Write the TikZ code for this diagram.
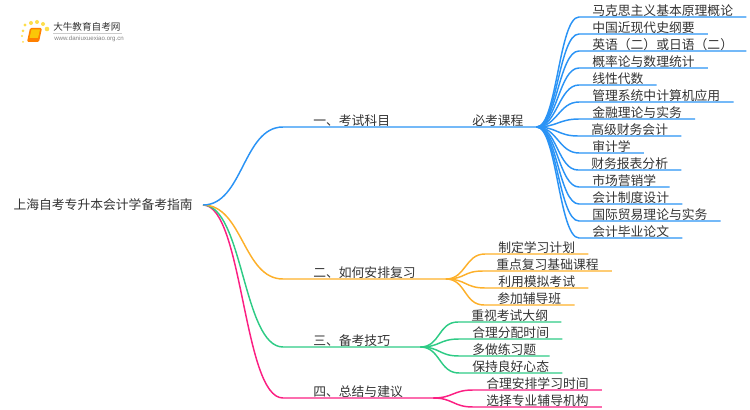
\documentclass[tikz,border=0pt]{standalone}
\usepackage{fontspec}
\setmainfont{Noto Sans CJK SC}
\newfontfamily\urlfont{Liberation Sans}
\usepackage{tikz}
\definecolor{mapblue}{HTML}{2A93F5}
\definecolor{maporange}{HTML}{FDB02A}
\definecolor{mapgreen}{HTML}{2ECB85}
\definecolor{mappink}{HTML}{FB1F82}
\definecolor{maptext}{HTML}{333333}
\tikzset{
    mapline/.style = {line width=1.1pt},
    rootnode/.style = {anchor=east,inner xsep=7.5pt,inner ysep=0pt,text=maptext,font=\fontsize{9.6pt}{12pt}\selectfont},
    branchnode/.style = {anchor=south west,inner xsep=22.5pt,inner ysep=0.75pt,text height=8.5pt,text depth=0pt,text=maptext,font=\fontsize{9.6pt}{12pt}\selectfont},
    leafnode/.style = {anchor=south west,inner xsep=9.75pt,inner ysep=0.75pt,text height=8.5pt,text depth=0pt,text=maptext,font=\fontsize{9.6pt}{12pt}\selectfont}
}
\begin{document}
\begin{tikzpicture}[
        x = 0.75pt,
        y = -0.75pt
    ]
        \useasboundingbox (0,0) rectangle (750,410);
        % logo
        \fill [yellow!70!orange!70] (25,25) circle (1.7) (31,23) circle (2) (37,22) circle (2) (43,24) circle (2) (47,29) circle (2.3) (23,31) circle (1.5) (22,36) circle (1.2) (23,42) circle (1);
        \fill [orange,rounded corners=1] (30,28)--(42,28)--(39,42)--(27,42)--cycle;
        \fill [yellow!60!orange] (31.5,29.5)--(40,29.5)--(38,38)--(29.5,38)--cycle;
        \draw [gray!40] (53,33)--(122,33);
        \node (logotitle) [anchor=west,inner sep=0pt,text=maptext,font=\fontsize{7.2pt}{9pt}\selectfont] at (53,27) {大牛教育自考网};
        \node (logourl) [anchor=west,inner sep=0pt,text=gray,font=\urlfont\fontsize{4.6pt}{6pt}\selectfont] at (54,39) {www.daniuxuexiao.org.cn};
        % root and branches
        \node (root) [rootnode] at (203,205) {上海自考专升本会计学备考指南};
        \node (exam) [branchnode] at (283,127) {一、考试科目};
        \node (review) [branchnode] at (283,279) {二、如何安排复习};
        \node (skill) [branchnode] at (283,347) {三、备考技巧};
        \node (advice) [branchnode] at (283,398) {四、总结与建议};
        \node (course) [leafnode] at (459,127) {必考课程};
        \draw [mapline,mappink] (root.east) .. controls +(40,0) and +(-40,0) .. (advice.south west) -- (advice.south east);
        \draw [mapline,mapgreen] (root.east) .. controls +(40,0) and +(-40,0) .. (skill.south west) -- (skill.south east);
        \draw [mapline,maporange] (root.east) .. controls +(40,0) and +(-40,0) .. (review.south west) -- (review.south east);
        \draw [mapline,mapblue] (root.east) .. controls +(40,0) and +(-40,0) .. (exam.south west) -- (course.south east);
        % blue leaves
        \node (c1) [leafnode] at (579,17) {马克思主义基本原理概论};
        \node (c2) [leafnode] at (579,34) {中国近现代史纲要};
        \node (c3) [leafnode] at (579,51) {英语（二）或日语（二）};
        \node (c4) [leafnode] at (579,68) {概率论与数理统计};
        \node (c5) [leafnode] at (579,85) {线性代数};
        \node (c6) [leafnode] at (579,102) {管理系统中计算机应用};
        \node (c7) [leafnode] at (579,119) {金融理论与实务};
        \node (c8) [leafnode] at (578,136) {高级财务会计};
        \node (c9) [leafnode] at (579,153) {审计学};
        \node (c10) [leafnode] at (578,170) {财务报表分析};
        \node (c11) [leafnode] at (579,187) {市场营销学};
        \node (c12) [leafnode] at (579,204) {会计制度设计};
        \node (c13) [leafnode] at (579,221) {国际贸易理论与实务};
        \node (c14) [leafnode] at (579,238) {会计毕业论文};
        \draw [mapline,mapblue] (course.south east) .. controls +(20,0) and +(-20,0) .. (c1.south west) -- (c1.south east);
        \draw [mapline,mapblue] (course.south east) .. controls +(20,0) and +(-20,0) .. (c2.south west) -- (c2.south east);
        \draw [mapline,mapblue] (course.south east) .. controls +(20,0) and +(-20,0) .. (c3.south west) -- (c3.south east);
        \draw [mapline,mapblue] (course.south east) .. controls +(20,0) and +(-20,0) .. (c4.south west) -- (c4.south east);
        \draw [mapline,mapblue] (course.south east) .. controls +(20,0) and +(-20,0) .. (c5.south west) -- (c5.south east);
        \draw [mapline,mapblue] (course.south east) .. controls +(20,0) and +(-20,0) .. (c6.south west) -- (c6.south east);
        \draw [mapline,mapblue] (course.south east) .. controls +(20,0) and +(-20,0) .. (c7.south west) -- (c7.south east);
        \draw [mapline,mapblue] (course.south east) .. controls +(20,0) and +(-20,0) .. (c8.south west) -- (c8.south east);
        \draw [mapline,mapblue] (course.south east) .. controls +(20,0) and +(-20,0) .. (c9.south west) -- (c9.south east);
        \draw [mapline,mapblue] (course.south east) .. controls +(20,0) and +(-20,0) .. (c10.south west) -- (c10.south east);
        \draw [mapline,mapblue] (course.south east) .. controls +(20,0) and +(-20,0) .. (c11.south west) -- (c11.south east);
        \draw [mapline,mapblue] (course.south east) .. controls +(20,0) and +(-20,0) .. (c12.south west) -- (c12.south east);
        \draw [mapline,mapblue] (course.south east) .. controls +(20,0) and +(-20,0) .. (c13.south west) -- (c13.south east);
        \draw [mapline,mapblue] (course.south east) .. controls +(20,0) and +(-20,0) .. (c14.south west) -- (c14.south east);
        % orange leaves
        \node (r1) [leafnode] at (485,254) {制定学习计划};
        \node (r2) [leafnode] at (483,271) {重点复习基础课程};
        \node (r3) [leafnode] at (485,288) {利用模拟考试};
        \node (r4) [leafnode] at (484,305) {参加辅导班};
        \draw [mapline,maporange] (review.south east) .. controls +(20,0) and +(-20,0) .. (r1.south west) -- (r1.south east);
        \draw [mapline,maporange] (review.south east) .. controls +(20,0) and +(-20,0) .. (r2.south west) -- (r2.south east);
        \draw [mapline,maporange] (review.south east) .. controls +(20,0) and +(-20,0) .. (r3.south west) -- (r3.south east);
        \draw [mapline,maporange] (review.south east) .. controls +(20,0) and +(-20,0) .. (r4.south west) -- (r4.south east);
        % green leaves
        \node (s1) [leafnode] at (458,322) {重视考试大纲};
        \node (s2) [leafnode] at (459,339) {合理分配时间};
        \node (s3) [leafnode] at (459,356) {多做练习题};
        \node (s4) [leafnode] at (459,373) {保持良好心态};
        \draw [mapline,mapgreen] (skill.south east) .. controls +(20,0) and +(-20,0) .. (s1.south west) -- (s1.south east);
        \draw [mapline,mapgreen] (skill.south east) .. controls +(20,0) and +(-20,0) .. (s2.south west) -- (s2.south east);
        \draw [mapline,mapgreen] (skill.south east) .. controls +(20,0) and +(-20,0) .. (s3.south west) -- (s3.south east);
        \draw [mapline,mapgreen] (skill.south east) .. controls +(20,0) and +(-20,0) .. (s4.south west) -- (s4.south east);
        % pink leaves
        \node (a1) [leafnode] at (473,390) {合理安排学习时间};
        \node (a2) [leafnode] at (473,407) {选择专业辅导机构};
        \draw [mapline,mappink] (advice.south east) .. controls +(20,0) and +(-20,0) .. (a1.south west) -- (a1.south east);
        \draw [mapline,mappink] (advice.south east) .. controls +(20,0) and +(-20,0) .. (a2.south west) -- (a2.south east);
\end{tikzpicture}
\end{document}
